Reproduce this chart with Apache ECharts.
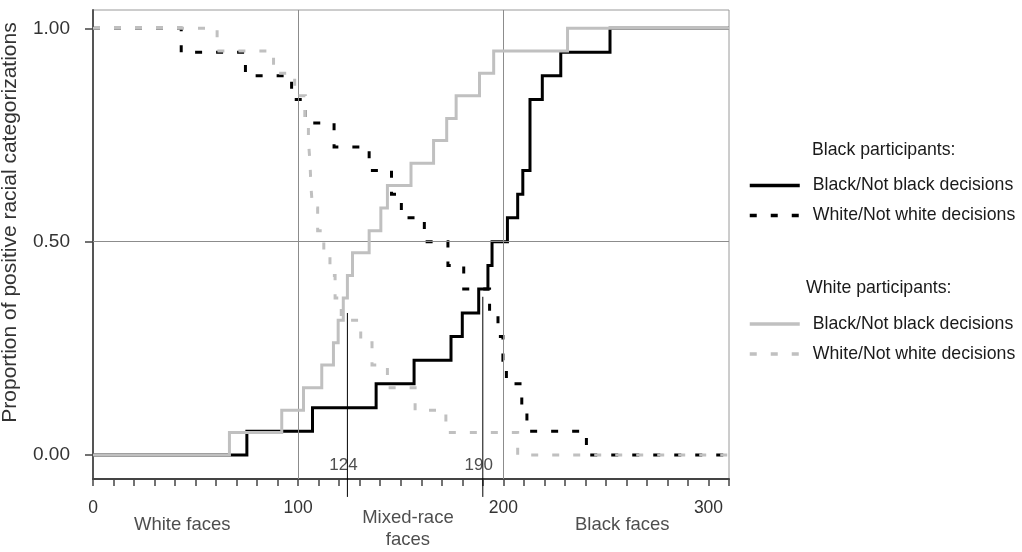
<!DOCTYPE html>
<html><head><meta charset="utf-8">
<script src="https://cdn.jsdelivr.net/npm/echarts@6/dist/echarts.min.js"></script>
<style>html,body{margin:0;padding:0;background:#fff}#c{width:1022px;height:552px}</style>
</head><body><div id="c"></div>
<script>
const FONT = '"Liberation Sans", Arial, sans-serif';

// Black participants – Black/Not black decisions (x where value changes, new value)
const bpBlackX = [0, 75, 107, 138, 156.5, 174.5, 180, 188, 192.5, 194.5, 202, 207, 209.5, 213, 219, 228, 252, 310];
const bpBlackY = [0, 0.056, 0.111, 0.167, 0.222, 0.278, 0.333, 0.389, 0.444, 0.5, 0.556, 0.611, 0.667, 0.833, 0.889, 0.944, 1, 1];

// Black participants – White/Not white decisions
const bpWhiteX = [0, 43, 74.3, 96.8, 103.5, 117.5, 134.6, 145.5, 150.3, 161.5, 173, 180.7, 193.3, 197.4, 199.8, 201.5, 209, 211.5, 240.5, 310];
const bpWhiteY = [1, 0.944, 0.889, 0.833, 0.778, 0.722, 0.667, 0.611, 0.556, 0.5, 0.444, 0.389, 0.333, 0.278, 0.222, 0.167, 0.111, 0.056, 0, 0];

// White participants – Black/Not black decisions
const wpBlackX = [0, 66.5, 92, 102.6, 111.5, 117.2, 119.5, 122, 124, 126.5, 134.6, 140.3, 143.5, 155, 166, 172.4, 177, 188.4, 195.3, 231.3, 310];
const wpBlackY = [0, 0.053, 0.105, 0.158, 0.211, 0.263, 0.316, 0.368, 0.421, 0.474, 0.526, 0.579, 0.632, 0.684, 0.737, 0.789, 0.842, 0.895, 0.947, 1, 1];

// White participants – White/Not white decisions
const wpWhiteX = [0, 60.5, 88, 98.3, 103.5, 105, 105.8, 106.2, 107, 109.5, 112.5, 115.5, 118, 121, 130.5, 136, 143.5, 157, 172, 207, 310];
const wpWhiteY = [1, 0.947, 0.895, 0.842, 0.789, 0.737, 0.684, 0.632, 0.579, 0.526, 0.474, 0.421, 0.368, 0.316, 0.263, 0.211, 0.158, 0.105, 0.053, 0, 0];

// axes / annotations
const xMin = 0, xMax = 310, xTickStep = 10, xLabelEvery = 100;
const yMin = -0.056, yMax = 1.043;
const yTickValues = [0, 0.5, 1];
const gridXValues = [100, 200];
const gridYValues = [0.5];
const markerX = [124, 190];
const markerTop = [0.333, 0.371];
const markerBottom = -0.098;
const markerLabelY = -0.023;
const faceLabels = ['White faces', 'Mixed-race\nfaces', 'Black faces'];
const faceLabelX = [43.5, 153.5, 258];
const faceLabelY = [-0.164, -0.1735, -0.164];

const names = [
  'Black participants: Black/Not black decisions',
  'Black participants: White/Not white decisions',
  'White participants: Black/Not black decisions',
  'White participants: White/Not white decisions'
];

const zip = (xs, ys) => xs.map((x, i) => [x, ys[i]]);
const BLACK = '#000000', GRAY = '#c0c0c0';
const DASH = [7, 14];

function stepSeries(name, xs, ys, color, type, z) {
  return {
    name, type: 'line', step: 'end', data: zip(xs, ys), symbol: 'none', showSymbol: false,
    lineStyle: { color, width: 3, type, cap: 'butt', join: 'miter' },
    itemStyle: { color }, z, silent: true
  };
}

const series = [
  {
    type: 'line', data: [], silent: true, z: 1,
    markLine: {
      silent: true, symbol: 'none', animation: false,
      label: { show: false },
      lineStyle: { color: '#8c8c8c', width: 1, type: 'solid' },
      data: [...gridXValues.map(v => ({ xAxis: v })), ...gridYValues.map(v => ({ yAxis: v }))]
    }
  },
  stepSeries(names[0], bpBlackX, bpBlackY, BLACK, 'solid', 3),
  stepSeries(names[1], bpWhiteX, bpWhiteY, BLACK, DASH, 4),
  stepSeries(names[2], wpBlackX, wpBlackY, GRAY, 'solid', 5),
  stepSeries(names[3], wpWhiteX, wpWhiteY, GRAY, DASH, 6),
  ...markerX.map((x, i) => ({
    type: 'line', data: [[x, markerTop[i]], [x, markerBottom]], symbol: 'none', clip: false,
    lineStyle: { color: '#000', width: 1 }, silent: true, z: 7
  })),
  {
    type: 'scatter', clip: false, symbolSize: 0, silent: true, z: 8,
    data: markerX.map(x => [x, markerLabelY, String(x)]),
    label: { show: true, position: 'inside', offset: [-4, 0], formatter: p => p.value[2],
      fontSize: 17, color: '#222', fontFamily: FONT }
  },
  {
    type: 'scatter', clip: false, symbolSize: 0, silent: true, z: 8,
    data: faceLabels.map((t, i) => [faceLabelX[i], faceLabelY[i], t]),
    label: { show: true, position: 'inside', formatter: p => p.value[2], align: 'center',
      fontSize: 18.5, lineHeight: 22, color: '#222', fontFamily: FONT }
  }
];

const legendCommon = {
  orient: 'vertical', left: 748, padding: 0, itemWidth: 50, itemHeight: 18, itemGap: 12,
  selectedMode: false,
  itemStyle: { opacity: 0 },
  lineStyle: { width: 3.5 },
  formatter: n => n.split(': ')[1],
  textStyle: { fontSize: 17.7, color: '#1a1a1a', fontFamily: FONT, padding: [0, 0, 0, 8] }
};

const option = {
  animation: false,
  backgroundColor: '#ffffff',
  textStyle: { fontFamily: FONT },
  title: [
    { text: 'Black participants:', left: 807, top: 136, textStyle: { fontSize: 17.7, fontWeight: 'normal', color: '#1a1a1a', fontFamily: FONT } },
    { text: 'White participants:', left: 801, top: 274, textStyle: { fontSize: 17.7, fontWeight: 'normal', color: '#1a1a1a', fontFamily: FONT } }
  ],
  legend: [
    Object.assign({}, legendCommon, { top: 176.5, data: [names[0], names[1]] }),
    Object.assign({}, legendCommon, { top: 315, data: [names[2], names[3]] })
  ],
  grid: { left: 93, right: 293, top: 10, bottom: 73, show: true, borderColor: '#9a9a9a', borderWidth: 1,
    containLabel: false, outerBoundsMode: 'none' },
  xAxis: {
    type: 'value', min: xMin, max: xMax, interval: xTickStep,
    axisLine: { show: true, onZero: false, lineStyle: { color: '#444', width: 2 } },
    axisTick: { show: true, length: 7, lineStyle: { color: '#444', width: 1.5 } },
    axisLabel: { margin: 20, fontSize: 17.5, color: '#333', fontFamily: FONT,
      formatter: v => (Math.round(v) % xLabelEvery === 0 ? String(Math.round(v)) : '') },
    splitLine: { show: false }
  },
  yAxis: {
    type: 'value', min: yMin, max: yMax,
    name: 'Proportion of positive racial categorizations',
    nameLocation: 'middle', nameGap: 72, nameRotate: 90, nameMoveOverlap: false,
    nameTextStyle: { fontSize: 21, color: '#333', fontFamily: FONT, padding: [0, 0, 0, 44] },
    axisLine: { show: true, onZero: false, lineStyle: { color: '#555', width: 2 } },
    axisTick: { show: true, length: 8, customValues: yTickValues, lineStyle: { color: '#444', width: 1.5 } },
    axisLabel: { margin: 23, fontSize: 19, color: '#333', fontFamily: FONT, customValues: yTickValues,
      formatter: v => Number(v).toFixed(2) },
    splitLine: { show: false }
  },
  series
};

const chart = echarts.init(document.getElementById('c'), null, { renderer: 'canvas' });
chart.setOption(option);
</script>
</body></html>
